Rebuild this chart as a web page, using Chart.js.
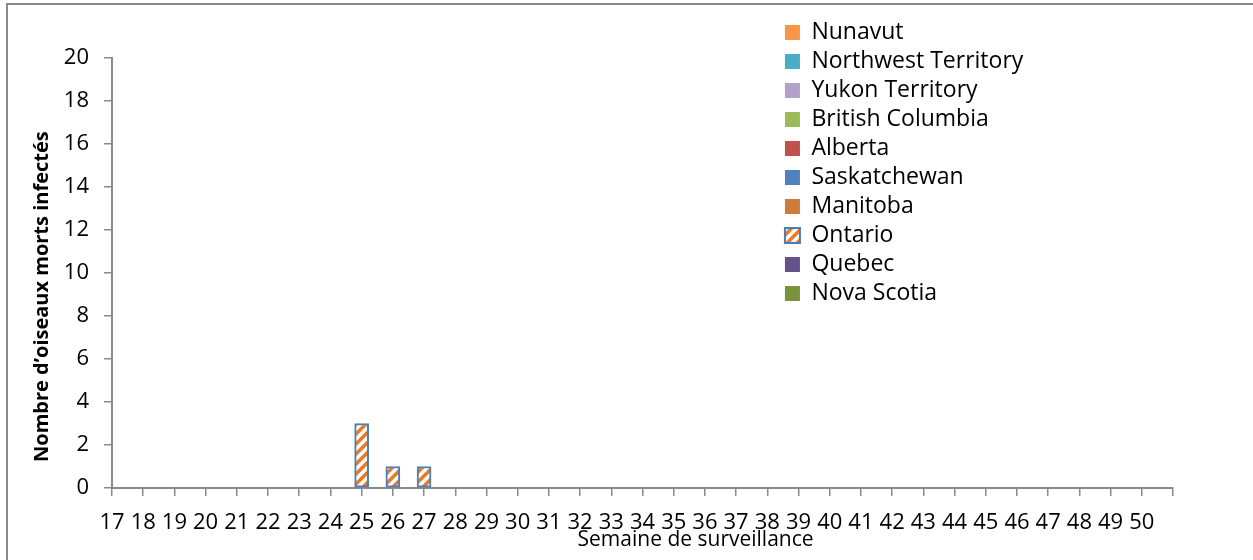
<!DOCTYPE html>
<html>
<head>
<meta charset="utf-8">
<script src="https://cdn.jsdelivr.net/npm/chart.js@4.4.1/dist/chart.umd.min.js"></script>
<style>
    html, body { margin: 0; padding: 0; background: #fff; overflow: hidden; }
    #wrap { position: relative; width: 1253px; height: 560px; }
    #frame { position: absolute; left: 6px; top: 3px; width: 1400px; height: 700px; border: 2px solid #8a8a8a; pointer-events: none; }
</style>
</head>
<body>
<div id="wrap"><canvas id="birdChart"></canvas><div id="frame"></div></div>
<script>
const weeks = [17, 18, 19, 20, 21, 22, 23, 24, 25, 26, 27, 28, 29, 30, 31, 32, 33,
               34, 35, 36, 37, 38, 39, 40, 41, 42, 43, 44, 45, 46, 47, 48, 49, 50];
const provinces = ['Nunavut', 'Northwest Territory', 'Yukon Territory', 'British Columbia', 'Alberta',
                   'Saskatchewan', 'Manitoba', 'Ontario', 'Quebec', 'Nova Scotia'];
const provinceColors = ['#F79646', '#4BACC6', '#B3A2C7', '#9BBB59', '#C0504D',
                        '#4F81BD', '#CC7B38', '#EB7A26', '#65508A', '#77933C'];
// seules les semaines avec des oiseaux infectés (Ontario)
const ontarioWeeks = [25, 26, 27];
const ontarioCounts = [3, 1, 1];
const yMax = 20;
const yStep = 2;

const textColor = '#000';
const axisColor = '#8a8a8a';
Chart.defaults.font.family = "'Open Sans', sans-serif";
Chart.defaults.color = textColor;

// hachures orange / blanc comme dans Excel
function makeStripes(color) {
    const tile = document.createElement('canvas');
    tile.width = 10;
    tile.height = 10;
    const g = tile.getContext('2d');
    g.fillStyle = '#fff';
    g.fillRect(0, 0, 10, 10);
    g.strokeStyle = color;
    g.lineWidth = 3.5;
    g.beginPath();
    g.moveTo(-5, 5); g.lineTo(5, -5);
    g.moveTo(0, 10); g.lineTo(10, 0);
    g.moveTo(5, 15); g.lineTo(15, 5);
    g.stroke();
    return g.createPattern(tile, 'repeat');
}

const datasets = provinces.map((name, i) => {
    if (name === 'Ontario') {
        return {
            label: name,
            data: ontarioWeeks.map((w, j) => ({ x: w, y: ontarioCounts[j] })),
            backgroundColor: makeStripes(provinceColors[i]),
            borderColor: '#4A7EBB',
            borderWidth: 2,
            borderSkipped: false,
        };
    }
    return { label: name, data: [], backgroundColor: provinceColors[i], borderWidth: 0 };
});

// légende déplacée dans la zone du graphique + titres des axes comme dans Excel
const excelLayout = {
    id: 'excelLayout',
    afterLayout(chart) {
        const a = chart.chartArea;
        chart.legend.left = a.left + (a.right - a.left) * 0.6286;
        chart.legend.top = a.top - 43;
    },
    afterDraw(chart) {
        const a = chart.chartArea;
        const ctx = chart.ctx;
        ctx.save();
        ctx.fillStyle = textColor;
        ctx.textAlign = 'center';
        ctx.textBaseline = 'middle';
        ctx.font = "21px 'Open Sans', sans-serif";
        ctx.fillText('Semaine de surveillance', a.left + (a.right - a.left) * 0.55, a.bottom + 52);
        ctx.translate(a.left - 70, a.top + (a.bottom - a.top) * 0.555);
        ctx.rotate(-Math.PI / 2);
        ctx.font = "bold 20px 'Open Sans', sans-serif";
        ctx.fillText('Nombre d\u2019oiseaux morts infectés', 0, 0);
        ctx.restore();
    }
};

new Chart(document.getElementById('birdChart').getContext('2d'), {
    type: 'bar',
    data: { datasets },
    plugins: [excelLayout],
    options: {
        responsive: true,
        maintainAspectRatio: false,
        animation: false,
        layout: { padding: { top: 58, right: 80, left: 0, bottom: 0 } },
        datasets: { bar: { grouped: false, barThickness: 14 } },
        plugins: {
            tooltip: { enabled: false },
            legend: {
                position: 'chartArea',
                align: 'start',
                labels: {
                    boxWidth: 15,
                    boxHeight: 15,
                    padding: 6,
                    color: textColor,
                    font: { size: 23 },
                }
            }
        },
        scales: {
            x: {
                type: 'linear',
                offset: false,
                min: weeks[0],
                max: weeks[weeks.length - 1] + 1,
                afterFit: (scale) => { scale.height = 72; },
                grid: { offset: false, drawOnChartArea: false, tickLength: 8, color: axisColor, lineWidth: 1.5 },
                border: { color: axisColor, width: 2 },
                ticks: {
                    stepSize: 1,
                    autoSkip: false,
                    maxRotation: 0,
                    padding: 14,
                    font: { size: 22 },
                    callback: (v) => weeks.includes(v) ? String(v) : ''
                }
            },
            y: {
                min: 0,
                max: yMax,
                afterFit: (scale) => { scale.width = 112; },
                grid: { drawOnChartArea: false, tickLength: 8, color: axisColor, lineWidth: 1.5 },
                border: { color: axisColor, width: 2 },
                ticks: { stepSize: yStep, padding: 15, font: { size: 22 } }
            }
        }
    }
});
</script>
</body>
</html>
